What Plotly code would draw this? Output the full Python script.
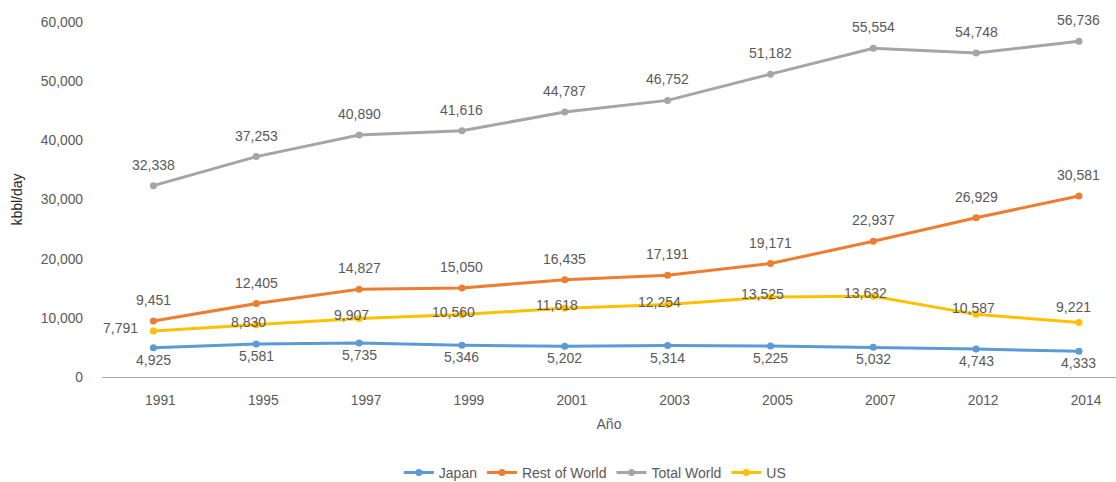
import plotly.graph_objects as go

years = ["1991", "1995", "1997", "1999", "2001", "2003", "2005", "2007", "2012", "2014"]
japan = [4925, 5581, 5735, 5346, 5202, 5314, 5225, 5032, 4743, 4333]
rest_of_world = [9451, 12405, 14827, 15050, 16435, 17191, 19171, 22937, 26929, 30581]
total_world = [32338, 37253, 40890, 41616, 44787, 46752, 51182, 55554, 54748, 56736]
us = [7791, 8830, 9907, 10560, 11618, 12254, 13525, 13632, 10587, 9221]

FONT = "Liberation Sans, Arial, sans-serif"
TXT = "#595959"
LBL = 14
TICK = 13.8

# label placement (pixel offsets from the point) per series
place = {
    "Japan": [(0, -12)] * 10,
    "Rest of World": [(0, 21)] * 10,
    "Total World": [(0, 21)] * 10,
    "US": [(-33, 3)] + [(-8, 3)] * 7 + [(-3, 6), (-5, 15)],
}

series = [
    ("Japan", japan, "#5B9BD5"),
    ("Rest of World", rest_of_world, "#ED7D31"),
    ("Total World", total_world, "#A5A5A5"),
    ("US", us, "#FFC000"),
]

fig = go.Figure()
annotations = []
for name, vals, color in series:
    xs = list(range(len(years)))
    fig.add_trace(go.Scatter(
        x=xs, y=vals, name=name,
        mode="lines+markers",
        line=dict(color=color, width=3),
        marker=dict(color=color, size=7),
        cliponaxis=False,
    ))
    for xi, v, (dx, dy) in zip(xs, vals, place[name]):
        annotations.append(dict(
            x=xi, y=v, xref="x", yref="y", text=f"{v:,}", showarrow=False,
            xshift=dx, yshift=dy, xanchor="center", yanchor="middle",
            font=dict(family=FONT, size=LBL, color=TXT),
        ))

fig.update_layout(
    width=1116, height=482,
    margin=dict(l=102, r=0, t=22, b=105, autoexpand=False),
    plot_bgcolor="white", paper_bgcolor="white",
    font=dict(family=FONT, size=LBL, color=TXT),
    annotations=annotations,
    showlegend=True,
    legend=dict(orientation="h", x=0.486, xanchor="center", y=-0.27, yanchor="middle",
                font=dict(family=FONT, size=14, color=TXT), itemwidth=30,
                tracegroupgap=0),
    xaxis=dict(
        tickmode="array", tickvals=list(range(len(years))), ticktext=years,
        range=[-0.5, 9.36], showgrid=False, zeroline=False,
        showline=True, linecolor="#A6A6A6", linewidth=1.3,
        ticks="", ticklabelstandoff=10, ticklabelshift=7,
        tickfont=dict(family=FONT, size=TICK, color=TXT),
        title=dict(text="Año", font=dict(family=FONT, size=LBL, color=TXT), standoff=12),
    ),
    yaxis=dict(
        range=[0, 60000], tickvals=[0, 10000, 20000, 30000, 40000, 50000, 60000],
        tickformat=",", showgrid=False, zeroline=False, showline=False,
        ticklabelstandoff=18,
        tickfont=dict(family=FONT, size=TICK, color=TXT),
        title=dict(text="kbbl/day", font=dict(family=FONT, size=LBL, color="#262626"), standoff=14),
    ),
)

fig.write_html("out.html")
